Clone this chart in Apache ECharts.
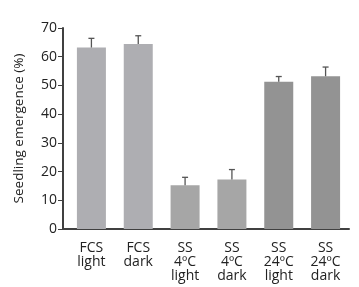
<!DOCTYPE html>
<html>
<head>
<meta charset="utf-8">
<script src="https://cdn.jsdelivr.net/npm/echarts@6/dist/echarts.min.js"></script>
<style>
  html, body { margin: 0; padding: 0; background: #fff; }
  #chart { width: 359px; height: 287px; }
</style>
</head>
<body>
<div id="chart"></div>
<script>
// data
var categories = ['FCS\nlight', 'FCS\ndark', 'SS\n4ºC\nlight', 'SS\n4ºC\ndark', 'SS\n24ºC\nlight', 'SS\n24ºC\ndark']
var emergence = [63.2, 64.4, 15.2, 17.2, 51.3, 53.2]
var errorUp = [3.2, 2.9, 2.8, 3.5, 1.8, 3.2]
var barColors = ['#aeaeb2', '#aeaeb2', '#a6a6a6', '#a6a6a6', '#939393', '#939393']
var yTicks = [0, 10, 20, 30, 40, 50, 60, 70]

var myChart = echarts.init(document.getElementById('chart'))

var errData = emergence.map(function (v, i) { return [i, v, v + errorUp[i]] })

var gridLeft = 68, gridBottom = 58, yOffset = 5

var option = {
  animation: false,
  backgroundColor: '#fff',
  textStyle: { fontFamily: 'Open Sans' },
  grid: { left: gridLeft, right: 10, top: 28, bottom: gridBottom },
  // the y axis sits a few px left of the first band, so close the corner
  graphic: [{
    type: 'line',
    shape: { x1: gridLeft - yOffset - 1, y1: 287 - gridBottom, x2: gridLeft, y2: 287 - gridBottom },
    style: { stroke: '#404040', lineWidth: 2 }
  }],
  xAxis: {
    type: 'category',
    data: categories,
    axisLine: { lineStyle: { color: '#404040', width: 2 } },
    axisTick: { show: false },
    axisLabel: { color: '#222', fontSize: 14, lineHeight: 14, margin: 12, interval: 0 }
  },
  yAxis: {
    type: 'value',
    min: yTicks[0],
    max: yTicks[yTicks.length - 1],
    interval: 10,
    offset: yOffset,
    name: 'Seedling emergence (%)',
    nameLocation: 'middle',
    nameGap: 37,
    nameTextStyle: { color: '#222', fontSize: 13.5 },
    splitLine: { show: false },
    axisLine: { show: true, lineStyle: { color: '#404040', width: 2 } },
    axisTick: { show: true, length: 5, lineStyle: { color: '#404040', width: 1 } },
    axisLabel: { color: '#222', fontSize: 14, margin: 6 }
  },
  series: [
    {
      type: 'bar',
      barWidth: 29,
      data: emergence.map(function (v, i) {
        return { value: v, itemStyle: { color: barColors[i] } }
      })
    },
    {
      type: 'custom',
      data: errData,
      z: 3,
      renderItem: function (params, api) {
        var base = api.coord([api.value(0), api.value(1)])
        var top = api.coord([api.value(0), api.value(2)])
        var cap = 3
        var st = { stroke: '#555', lineWidth: 1.3 }
        return {
          type: 'group',
          children: [
            { type: 'line', shape: { x1: base[0], y1: base[1], x2: top[0], y2: top[1] }, style: st },
            { type: 'line', shape: { x1: top[0] - cap, y1: top[1], x2: top[0] + cap, y2: top[1] }, style: st }
          ]
        }
      }
    }
  ]
}

myChart.setOption(option)
</script>
</body>
</html>
